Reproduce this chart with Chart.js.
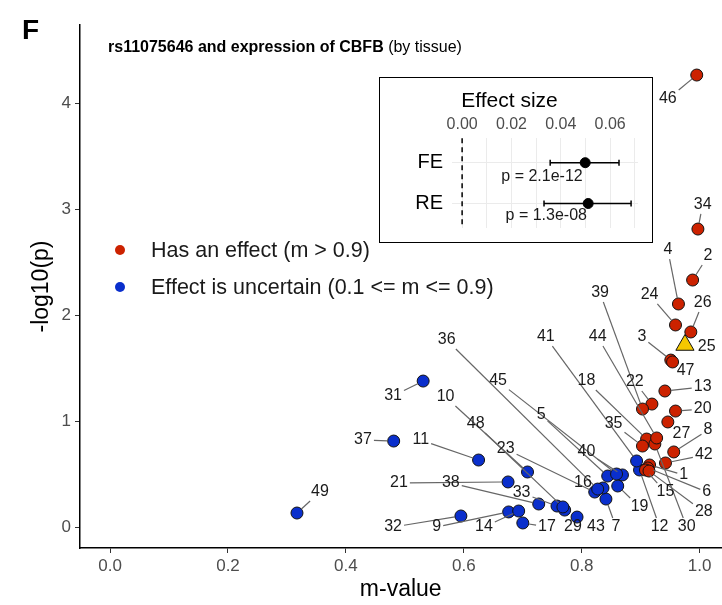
<!DOCTYPE html>
<html>
<head>
<meta charset="utf-8">
<script src="https://cdn.jsdelivr.net/npm/chart.js@4"></script>
<style>
  body { margin: 0; background: #fff; font-family: "Liberation Sans", Arial, sans-serif; overflow: hidden; }
  #wrap { position: relative; width: 722px; height: 605px; overflow: hidden; }
  #main { position: absolute; left: 0; top: 0; }
  #panelF { position: absolute; left: 22px; top: 14px; font-size: 28px; font-weight: bold; }
  #title { position: absolute; left: 108px; top: 38px; font-size: 16px; line-height: 18px; color: #000; white-space: nowrap; }
  .leg { position: absolute; left: 115px; font-size: 21.5px; line-height: 24px; color: #1a1a1a; white-space: nowrap; }
  .leg i { display: inline-block; width: 10px; height: 10px; border-radius: 50%; margin-right: 26px; vertical-align: 2px; }
  #insetBox { position: absolute; left: 379px; top: 77px; width: 274px; height: 166px; box-sizing: border-box; border: 1.5px solid #000; background: #fff; }
  #inset { position: absolute; left: 381px; top: 79px; }
</style>
</head>
<body>
<div id="wrap">
  <canvas id="main" width="733" height="605"></canvas>
  <div id="panelF">F</div>
  <div id="title"><b>rs11075646 and expression of CBFB</b> (by tissue)</div>
  <div class="leg" style="top:238px"><i style="background:#cc2200"></i>Has an effect (m &gt; 0.9)</div>
  <div class="leg" style="top:275px"><i style="background:#0a2fcc"></i>Effect is uncertain (0.1 &lt;= m &lt;= 0.9)</div>
  <div id="insetBox"></div>
  <canvas id="inset" width="270" height="170"></canvas>
</div>
<script>
// tissues 1..49
const tissueId = Array.from({ length: 49 }, (_, i) => i + 1);
const mValue = [
  0.915, 0.988, 0.951, 0.964, 0.844, 0.912, 0.841, 0.956, 0.676, 0.708,
  0.625, 0.898, 0.941, 0.693, 0.908, 0.836, 0.700, 0.910, 0.861, 0.959,
  0.675, 0.919, 0.822, 0.959, 0.975, 0.985, 0.946, 0.914, 0.771, 0.924,
  0.531, 0.595, 0.758, 0.997, 0.903, 0.827, 0.481, 0.727, 0.903, 0.869,
  0.893, 0.942, 0.792, 0.927, 0.859, 0.995, 0.954, 0.768, 0.317
];
const logP = [
  0.585, 2.330, 1.575, 2.104, 0.481, 0.557, 0.264, 0.708, 0.142, 0.519,
  0.632, 0.538, 1.283, 0.151, 0.538, 0.368, 0.038, 0.830, 0.387, 1.094,
  0.425, 1.160, 0.330, 1.906, 1.717, 1.840, 0.991, 0.528, 0.160, 0.783,
  1.377, 0.104, 0.198, 2.811, 0.764, 0.358, 0.811, 0.217, 1.113, 0.491,
  0.623, 0.604, 0.094, 0.840, 0.500, 4.264, 1.557, 0.189, 0.132
];
// where the repelled labels sit (data units)
const labelM = [
  0.973, 1.014, 0.902, 0.946, 0.731, 1.012, 0.858, 1.014, 0.554, 0.569,
  0.527, 0.932, 1.005, 0.634, 0.942, 0.802, 0.741, 0.808, 0.898, 1.005,
  0.490, 0.890, 0.671, 0.915, 1.012, 1.005, 0.969, 1.007, 0.785, 0.978,
  0.480, 0.480, 0.698, 1.005, 0.854, 0.571, 0.429, 0.578, 0.831, 0.808,
  0.739, 1.007, 0.824, 0.827, 0.658, 0.946, 0.976, 0.620, 0.356
];
const labelP = [
  0.491, 2.557, 1.792, 2.613, 1.057, 0.330, 0.000, 0.915, 0.000, 1.226,
  0.821, 0.000, 1.321, 0.000, 0.330, 0.415, 0.000, 1.377, 0.189, 1.113,
  0.415, 1.368, 0.736, 2.189, 1.698, 2.113, 0.877, 0.142, 0.000, 0.000,
  1.236, 0.000, 0.321, 3.038, 0.972, 1.764, 0.821, 0.415, 2.208, 0.708,
  1.792, 0.679, 0.000, 1.792, 1.377, 4.038, 1.472, 0.972, 0.330
];
const focusTissue = 25;
const xTicks = [0, 0.2, 0.4, 0.6, 0.8, 1.0];
const yTicks = [0, 1, 2, 3, 4];

// meta-analysis inset
const effectRows = ['FE', 'RE'];
const effectEst = [0.0499, 0.0511];
const ciLow = [0.0357, 0.0332];
const ciHigh = [0.0636, 0.0685];
const pText = ['p = 2.1e-12', 'p = 1.3e-08'];
const pTextX = [0.0324, 0.0341];
const effTicks = [0, 0.01, 0.02, 0.03, 0.04, 0.05, 0.06, 0.07];

const FONT = '"Liberation Sans", Arial, sans-serif';
Chart.defaults.font.family = FONT;

const pts = (keep) => tissueId.filter(keep).map(id => ({ x: mValue[id - 1], y: logP[id - 1] }));

const repelLabels = {
  id: 'repelLabels',
  afterDatasetsDraw(chart) {
    const { ctx, scales: { x, y } } = chart;
    ctx.save();
    ctx.font = '16px ' + FONT;
    ctx.strokeStyle = '#666';
    ctx.lineWidth = 1.2;
    tissueId.forEach((id, i) => {
      const px = x.getPixelForValue(mValue[i]), py = y.getPixelForValue(logP[i]);
      const lx = x.getPixelForValue(labelM[i]), ly = y.getPixelForValue(labelP[i]);
      const hw = ctx.measureText(String(id)).width / 2 + 2, hh = 9;
      const dx = px - lx, dy = py - ly;
      const dist = Math.hypot(dx, dy);
      const t = Math.min(dx ? hw / Math.abs(dx) : Infinity, dy ? hh / Math.abs(dy) : Infinity);
      const r = id === focusTissue ? 9 : 6;
      if (t >= 1 || dist * (1 - t) - r < 4) return;
      ctx.beginPath();
      ctx.moveTo(lx + dx * t, ly + dy * t);
      ctx.lineTo(px - dx / dist * r, py - dy / dist * r);
      ctx.stroke();
    });
    ctx.fillStyle = '#1a1a1a';
    ctx.textAlign = 'center';
    ctx.textBaseline = 'middle';
    tissueId.forEach((id, i) => {
      ctx.fillText(String(id), x.getPixelForValue(labelM[i]), y.getPixelForValue(labelP[i]));
    });
    ctx.restore();
  }
};

new Chart(document.getElementById('main'), {
  type: 'scatter',
  data: {
    datasets: [
      {
        data: pts(id => id !== focusTissue && mValue[id - 1] > 0.9),
        backgroundColor: '#cc2200', borderColor: '#111', borderWidth: 1, pointRadius: 6
      },
      {
        data: pts(id => id !== focusTissue && mValue[id - 1] <= 0.9),
        backgroundColor: '#0a2fcc', borderColor: '#111', borderWidth: 1, pointRadius: 6
      },
      {
        data: pts(id => id === focusTissue),
        pointStyle: 'triangle', backgroundColor: '#f5c800', borderColor: '#111', borderWidth: 1, pointRadius: 10.5
      }
    ]
  },
  options: {
    responsive: false,
    animation: false,
    layout: { padding: { top: 25, right: 0, left: 0, bottom: 0 } },
    plugins: { legend: { display: false }, tooltip: { enabled: false } },
    scales: {
      x: {
        type: 'linear', min: -0.051, max: 1.037,
        afterBuildTicks: s => { s.ticks = xTicks.map(v => ({ value: v })); },
        afterFit: s => { s.height = 57; },
        ticks: { callback: v => v.toFixed(1), color: '#4d4d4d', font: { size: 17 }, padding: 3, maxRotation: 0, autoSkip: false },
        grid: { display: true, drawOnChartArea: false, drawTicks: true, tickLength: 5, color: '#333' },
        border: { display: true, color: '#000', width: 1.5 },
        title: { display: true, text: 'm-value', color: '#000', font: { size: 23 }, padding: { top: 0, bottom: 2 } }
      },
      y: {
        type: 'linear', min: -0.198, max: 4.736,
        afterBuildTicks: s => { s.ticks = yTicks.map(v => ({ value: v })); },
        afterFit: s => { s.width = 80; },
        ticks: { color: '#4d4d4d', font: { size: 17 }, padding: 4 },
        grid: { display: true, drawOnChartArea: false, drawTicks: true, tickLength: 5, color: '#333' },
        border: { display: true, color: '#000', width: 1.5 },
        title: { display: true, text: '-log10(p)', color: '#000', font: { size: 23 }, padding: { top: 28, bottom: 0 } }
      }
    }
  },
  plugins: [repelLabels]
});

// inset: fixed / random effect estimates
const forestMarks = {
  id: 'forestMarks',
  beforeDatasetsDraw(chart) {
    const { ctx, chartArea, scales: { x, y } } = chart;
    ctx.save();
    const x0 = x.getPixelForValue(0);
    ctx.strokeStyle = '#000';
    ctx.lineWidth = 1.5;
    ctx.setLineDash([5, 4]);
    ctx.beginPath();
    ctx.moveTo(x0, chartArea.top);
    ctx.lineTo(x0, chartArea.bottom);
    ctx.stroke();
    ctx.setLineDash([]);
    effectRows.forEach((row, i) => {
      const yy = y.getPixelForValue(i + 1);
      const a = x.getPixelForValue(ciLow[i]), b = x.getPixelForValue(ciHigh[i]);
      ctx.beginPath();
      ctx.moveTo(a, yy); ctx.lineTo(b, yy);
      ctx.moveTo(a, yy - 3); ctx.lineTo(a, yy + 3);
      ctx.moveTo(b, yy - 3); ctx.lineTo(b, yy + 3);
      ctx.stroke();
    });
    ctx.restore();
  },
  afterDatasetsDraw(chart) {
    const { ctx, scales: { x, y } } = chart;
    ctx.save();
    ctx.font = '16px ' + FONT;
    ctx.fillStyle = '#1a1a1a';
    ctx.textAlign = 'center';
    ctx.textBaseline = 'middle';
    effectRows.forEach((row, i) => {
      ctx.fillText(pText[i], x.getPixelForValue(pTextX[i]), y.getPixelForValue(i + 1) + 14 - i * 2);
    });
    ctx.restore();
  }
};

new Chart(document.getElementById('inset'), {
  type: 'scatter',
  data: {
    datasets: [{
      data: effectRows.map((r, i) => ({ x: effectEst[i], y: i + 1 })),
      backgroundColor: '#000', borderColor: '#000', pointRadius: 5
    }]
  },
  options: {
    responsive: false,
    animation: false,
    layout: { padding: { top: 0, right: 13, left: 0, bottom: 6 } },
    plugins: {
      legend: { display: false }, tooltip: { enabled: false },
      title: { display: true, text: 'Effect size', color: '#000', font: { size: 21, weight: 'normal' }, padding: { top: 10, bottom: 0 } }
    },
    scales: {
      x: {
        type: 'linear', position: 'top', min: -0.0041, max: 0.0713,
        afterBuildTicks: s => { s.ticks = effTicks.map(v => ({ value: v })); },
        afterFit: s => { s.height = 24; },
        ticks: {
          callback: v => (Math.round(v * 100) % 2 === 0 ? v.toFixed(2) : ''),
          color: '#4d4d4d', font: { size: 16 }, padding: 4, maxRotation: 0, autoSkip: false
        },
        grid: { color: '#ebebeb', drawTicks: false },
        border: { display: false }
      },
      y: {
        type: 'linear', reverse: true, min: 0.4, max: 2.6,
        afterBuildTicks: s => { s.ticks = effectRows.map((r, i) => ({ value: i + 1 })); },
        afterFit: s => { s.width = 71; },
        ticks: { callback: v => effectRows[Math.round(v) - 1], color: '#000', font: { size: 20 }, padding: 9 },
        grid: { color: '#ebebeb', drawTicks: false },
        border: { display: false }
      }
    }
  },
  plugins: [forestMarks]
});
</script>
</body>
</html>
